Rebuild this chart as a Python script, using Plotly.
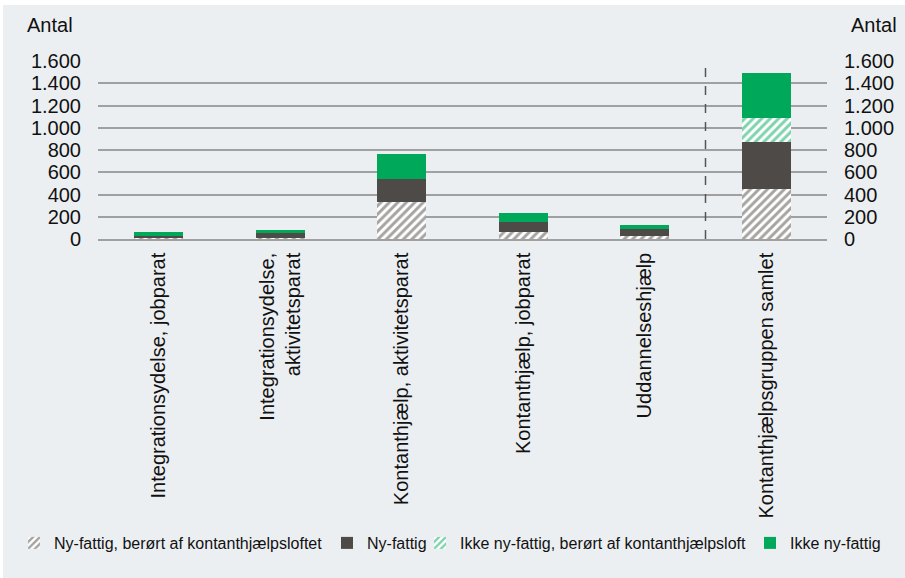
import plotly.graph_objects as go

categories = [
    "Integrationsydelse, jobparat",
    "Integrationsydelse,<br>aktivitetsparat",
    "Kontanthjælp, aktivitetsparat",
    "Kontanthjælp, jobparat",
    "Uddannelseshjælp",
    "Kontanthjælpsgruppen samlet",
]
ny_fattig_loft = [5, 5, 337, 65, 30, 451]
ny_fattig = [22, 49, 206, 84, 56, 421]
ikke_ny_fattig_loft = [0, 0, 0, 0, 0, 215]
ikke_ny_fattig = [32, 26, 224, 89, 42, 409]
tick_vals = [0, 200, 400, 600, 800, 1000, 1200, 1400, 1600]

DARK = "#4E4A47"
GREEN = "#00A859"
BG = "#ECEFF2"
FONT = "Liberation Sans, Arial, sans-serif"

# plot area geometry in pixels (for legend/annotation placement)
L, R, T, B = 98, 78, 61, 339
W = 905 - L - R
H = 578 - T - B


def px_x(p):
    return (p - L) / W


def px_y(p):
    return (578 - B - p) / H


legend_left_px = [14, 327, 420, 750]
legend_names = ["legend", "legend2", "legend3", "legend4"]

fig = go.Figure()
fig.add_bar(x=categories, y=ny_fattig_loft, name="Ny-fattig, berørt af kontanthjælpsloftet",
            legend=legend_names[0],
            marker=dict(color="white", line=dict(width=0),
                        pattern=dict(shape="/", fgcolor=DARK, bgcolor="white", size=6, solidity=0.5)))
fig.add_bar(x=categories, y=ny_fattig, name="Ny-fattig", legend=legend_names[1],
            marker=dict(color=DARK, line=dict(width=0)))
fig.add_bar(x=categories, y=ikke_ny_fattig_loft, name="Ikke ny-fattig, berørt af kontanthjælpsloft",
            legend=legend_names[2],
            marker=dict(color="white", line=dict(width=0),
                        pattern=dict(shape="/", fgcolor=GREEN, bgcolor="white", size=6, solidity=0.5)))
fig.add_bar(x=categories, y=ikke_ny_fattig, name="Ikke ny-fattig", legend=legend_names[3],
            marker=dict(color=GREEN, line=dict(width=0)))
fig.add_scatter(x=categories, y=[None] * len(categories), yaxis="y2", showlegend=False,
                hoverinfo="skip", mode="markers")

axis_common = dict(range=[0, 1600], tickvals=tick_vals, tickformat=",d", automargin=False,
                   tickfont=dict(size=20, color="#111", family=FONT))

legend_layout = {}
for name, lp in zip(legend_names, legend_left_px):
    legend_layout[name] = dict(
        orientation="h", x=px_x(lp), xanchor="left", y=px_y(543), yanchor="middle",
        font=dict(size=16, color="#111", family=FONT), itemwidth=30,
        bgcolor="rgba(0,0,0,0)", borderwidth=0)

fig.update_layout(
    width=905, height=578,
    barmode="stack", bargap=0.6,
    separators=",.",
    paper_bgcolor=BG, plot_bgcolor=BG,
    font=dict(family=FONT, color="#111"),
    margin=dict(l=L, r=R, t=T, b=B, autoexpand=False),
    xaxis=dict(tickangle=-90, tickfont=dict(size=20, color="#111", family=FONT),
               showline=True, linecolor="#A0A0A0", linewidth=1.5, ticks="",
               ticklabelstandoff=4, automargin=False),
    yaxis=dict(**axis_common, showgrid=True, gridcolor="#A0A0A0", gridwidth=1.5,
               zeroline=False, ticks="", ticklabelstandoff=16),
    yaxis2=dict(**axis_common, overlaying="y", side="right", showgrid=False,
                zeroline=False, ticks="", ticklabelstandoff=16),
    **legend_layout,
    shapes=[
        dict(type="line", xref="x", yref="paper", x0=4.5, x1=4.5, y0=0, y1=1,
             line=dict(color="#555", width=1.5, dash="dash")),
        dict(type="rect", xref="paper", yref="paper", x0=px_x(-2), x1=px_x(910),
             y0=px_y(5), y1=px_y(-2), fillcolor="white", line=dict(width=0), layer="below"),
        dict(type="rect", xref="paper", yref="paper", x0=px_x(-2), x1=px_x(3),
             y0=px_y(580), y1=px_y(-2), fillcolor="white", line=dict(width=0), layer="below"),
    ],
    annotations=[
        dict(text="Antal", xref="paper", yref="paper", x=px_x(25), y=px_y(25),
             xanchor="left", yanchor="middle", showarrow=False,
             font=dict(size=20, color="#111", family=FONT)),
        dict(text="Antal", xref="paper", yref="paper", x=px_x(899), y=px_y(25),
             xanchor="right", yanchor="middle", showarrow=False,
             font=dict(size=20, color="#111", family=FONT)),
    ],
)

fig.write_html(
    "out.html",
    config={"displayModeBar": False},
    post_script="document.body.style.margin='0';document.body.style.overflow='hidden';",
)
